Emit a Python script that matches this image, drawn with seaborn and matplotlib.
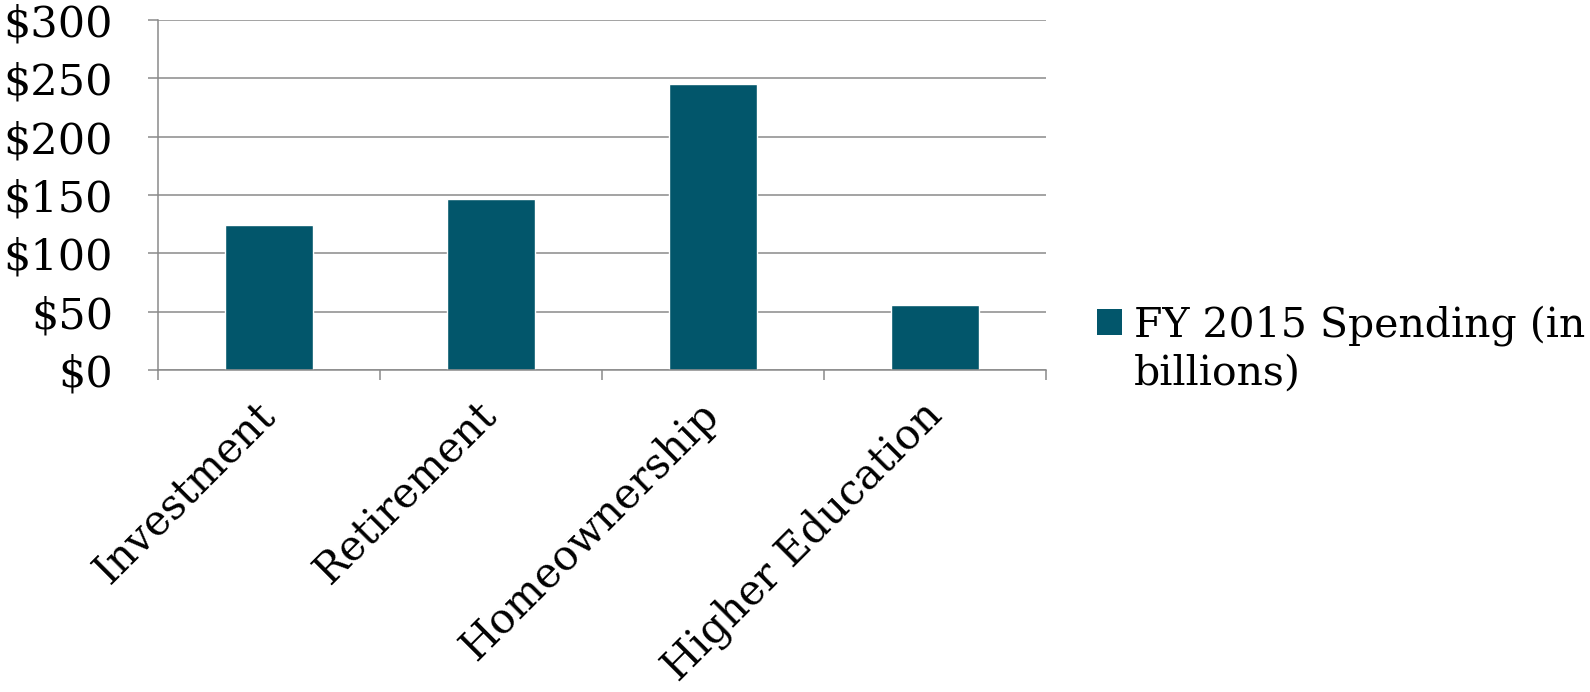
import matplotlib
matplotlib.use("Agg")
import matplotlib.pyplot as plt
import seaborn as sns
import pandas as pd
from matplotlib.patches import Patch

categories = ["Investment", "Retirement", "Homeownership", "Higher Education"]
spending = [124, 147, 245, 56]
series_lines = ["FY 2015 Spending (in", "billions)"]
yticks = [0, 50, 100, 150, 200, 250, 300]
ytick_labels = ["$0", "$50", "$100", "$150", "$200", "$250", "$300"]

sns.set_theme(style="white")
plt.rcParams["font.family"] = ["DejaVu Serif"]
plt.rcParams["text.color"] = "black"
plt.rcParams["xtick.color"] = "black"
plt.rcParams["ytick.color"] = "black"

df = pd.DataFrame({"category": categories, "value": spending})
bar_color = "#02566B"
grid_color = "#8A8A8A"
fs = 30

fig = plt.figure(figsize=(15.9, 6.92), dpi=100)
ax = fig.add_axes([158 / 1590, 1 - 370 / 692, (1046 - 158) / 1590, (370 - 20) / 692])

sns.barplot(data=df, x="category", y="value", color=bar_color, width=0.4,
            saturation=1, ax=ax)

ax.set_ylim(0, 300)
ax.set_xlim(-0.5, len(categories) - 0.5)
ax.set_yticks(yticks)
ax.set_yticklabels(ytick_labels, fontsize=31)
ax.set_xticks([i + 0.5 for i in range(-1, len(categories))], minor=False)
ax.set_xticklabels([])
ax.set_xticks(range(len(categories)), minor=True)
ax.set_xticklabels(categories, minor=True, rotation=45, ha="right", va="center",
                   rotation_mode="anchor", fontsize=fs)
ax.tick_params(axis="x", which="minor", bottom=True, length=0, pad=28)
ax.tick_params(axis="x", which="major", bottom=True, length=7.2, width=1.1,
               color=grid_color, direction="out")
ax.tick_params(axis="y", left=True, length=7.2, width=1.1, color=grid_color,
               direction="out", pad=25)
ax.set_xlabel("")
ax.set_ylabel("")

ax.yaxis.grid(True, color=grid_color, linewidth=1.1)
ax.set_axisbelow(True)
for s in ["top", "right"]:
    ax.spines[s].set_visible(False)
for s in ["left", "bottom"]:
    ax.spines[s].set_color(grid_color)
    ax.spines[s].set_linewidth(1.1)

handles = [Patch(facecolor=bar_color, edgecolor="none"),
           Patch(facecolor="none", edgecolor="none")]
fig.legend(handles=handles, labels=series_lines, loc="upper left",
           bbox_to_anchor=(1097 / 1590, 1 - 305 / 692), frameon=False,
           fontsize=29.5, handlelength=0.6, handleheight=0.6, handletextpad=0.3,
           borderaxespad=0, borderpad=0, labelspacing=0.2, labelcolor="black")

fig.savefig("out.png", dpi=100)
